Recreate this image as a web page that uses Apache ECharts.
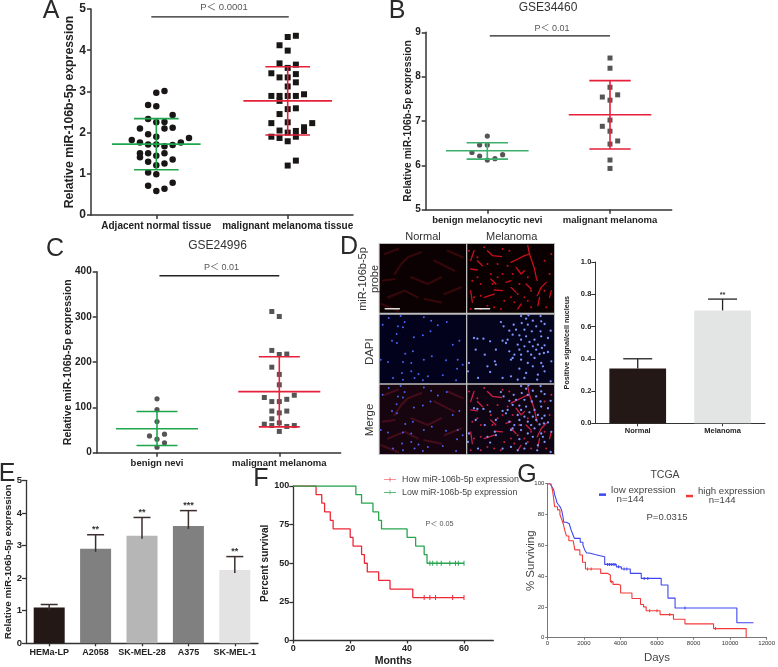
<!DOCTYPE html>
<html><head><meta charset="utf-8">
<style>html,body{margin:0;padding:0;background:#fff}#c{width:778px;height:667px}</style>
<script src="https://cdn.jsdelivr.net/npm/echarts@6/dist/echarts.min.js"></script>
</head><body><div id="c"></div>
<script>
// ---------- panel A : [swarm column, value]
const adjacentNormal = [[1,3.01],[0,2.97],[-1,2.67],[0,2.64],[2,2.43],[-1,2.33],[0,2.25],[1,2.26],[-2,2.10],[1,2.10],[2,2.12],[-1,1.96],[0,1.90],[-3,1.82],[4,1.87],[-2,1.76],[3,1.76],[-1,1.71],[0,1.71],[1,1.67],[2,1.70],[-2,1.50],[-1,1.50],[1,1.50],[0,1.44],[-2,1.40],[2,1.35],[-1,1.29],[1,1.25],[0,1.21],[-1,1.03],[0,0.99],[-1,0.71],[2,0.78],[1,0.64],[0,0.58]];
const malignantTissue = [[1,4.35],[0,4.32],[-1,4.12],[0,3.99],[-1,3.68],[1,3.65],[0,3.57],[-2,3.44],[1,3.42],[-1,3.34],[0,3.34],[1,3.22],[0,3.12],[2,2.93],[-2,2.89],[-1,2.89],[0,2.89],[1,2.89],[-1,2.77],[0,2.57],[1,2.59],[-1,2.45],[0,2.25],[-2,2.23],[3,2.23],[2,2.13],[-1,2.05],[0,2.00],[1,2.04],[2,2.04],[-2,1.90],[-1,1.87],[1,1.90],[0,1.79],[1,1.32],[0,1.20]];
const summaryA = [[1,1.72,1.10,2.34],[2,2.77,1.94,3.60]];
const labelsA = ['Adjacent normal tissue','malignant melanoma tissue'];
// ---------- panel B
const benignNevi34460 = [[0,6.66],[-1,6.46],[0,6.46],[-2,6.29],[-1,6.21],[2,6.24],[1,6.15],[0,6.12]];
const malignant34460 = [[0,8.42],[0,8.19],[0,7.76],[1,7.59],[-1,7.54],[0,7.47],[0,7.02],[-1,6.88],[0,6.77],[1,6.55],[0,6.48],[0,6.12],[0,5.93]];
const summaryB = [[1,6.33,6.14,6.51],[2,7.14,6.37,7.91]];
const labelsB = ['benign melanocytic nevi','malignant melanoma'];
// ---------- panel C
const benignNevi24996 = [[0,119],[0,95],[0,69],[-1,37],[1,41],[0,30],[1,22],[0,12]];
const malignant24996 = [[-1,312],[0,301],[-1,226],[0,217],[1,218],[-1,189],[0,173],[0,150],[-2,122],[2,127],[-1,113],[0,113],[1,118],[-1,92],[0,88],[1,92],[-1,75],[0,66],[-2,63],[-1,60],[1,58],[2,60],[0,47]];
const summaryC = [[1,53,16,91],[2,135,57,212]];
const labelsC = ['benign nevi','malignant melanoma'];
// ---------- panel D bars
const barLabelsD = ['Normal','Melanoma'];
const barValuesD = [0.34,0.70];
const barErrTopD = [0.40,0.77];
const barStarsD = ['','**'];
const barColorsD = ['#231815','#e3e5e5'];
// ---------- panel D micrograph sketches (tile coordinates)
const blueNormal = [[68,14],[32,20],[80,32],[138,18],[160,28],[75,48],[180,42],[207,32],[56,68],[108,78],[135,72],[158,60],[42,88],[57,95],[245,88],[225,100],[105,120],[82,127],[162,135],[8,145],[30,152],[75,152],[100,155],[138,145],[205,147],[240,145],[255,160],[238,172],[100,180],[72,185],[122,188],[45,200],[150,195],[195,192],[75,205],[135,207],[235,207],[110,200],[14,40],[60,45]];
const blueMelanoma = [[430,14],[452,12],[488,14],[445,22],[465,28],[490,30],[370,32],[408,40],[432,35],[450,40],[475,45],[500,38],[378,45],[395,58],[415,55],[440,55],[462,60],[488,60],[518,58],[405,70],[425,72],[445,75],[470,85],[490,75],[510,80],[375,88],[390,85],[430,85],[455,92],[480,100],[500,102],[385,95],[420,100],[440,105],[465,105],[492,110],[395,120],[425,115],[450,120],[475,115],[510,122],[410,130],[430,130],[460,130],[485,128],[498,125],[430,145],[470,140],[400,145],[405,140],[450,155],[490,155],[520,150],[465,165],[425,172],[495,165],[480,190],[445,185],[500,180],[290,80],[300,82],[318,82],[295,115],[322,130],[275,155],[338,90],[352,150],[355,160],[330,165],[338,182],[272,180],[302,200],[375,200],[420,205],[478,205],[518,210],[355,115],[400,195],[440,200]];
const redStreaksMelanoma = [[[400,65],[420,55],[440,45],[455,40],[462,60],[470,85],[475,110],[478,120]],[[455,40],[450,15]],[[478,165],[490,140],[505,125]],[[330,30],[345,45],[372,48]],[[280,85],[300,88]],[[290,30],[280,60]],[[385,125],[400,120]],[[415,80],[430,100],[440,90]],[[350,148],[375,150]],[[320,170],[350,160]],[[280,150],[285,185]],[[480,195],[485,170]],[[520,150],[515,170]],[[420,205],[430,190]],[[300,60],[315,75]],[[340,115],[355,130]],[[400,140],[415,155]],[[445,130],[460,145]]];
const redSpotsMelanoma = [[300,110],[340,100],[360,110],[420,160],[440,170],[460,150],[330,70],[390,75],[400,170],[350,200],[310,205],[505,200],[375,25],[300,50],[425,130],[450,110],[310,130],[285,120],[345,130],[380,180],[460,200],[500,60],[275,30],[320,20],[360,70],[375,100],[290,170],[310,165],[370,205],[395,30],[405,100],[450,180],[515,100],[520,40],[330,195],[280,205],[410,185],[500,150]];
const redStreaksNormal = [[[50,100],[70,70],[90,50],[130,35]],[[15,120],[50,115]],[[100,110],[150,130],[190,110]],[[30,170],[80,150],[120,170]],[[170,60],[230,90]],[[200,160],[250,140]],[[10,190],[60,210]],[[20,40],[60,25]],[[140,175],[190,185]],[[210,30],[255,50]]];
// ---------- panel E
const barLabelsE = ['HEMa-LP','A2058','SK-MEL-28','A375','SK-MEL-1'];
const barValuesE = [1.10,2.90,3.30,3.60,2.25];
const barErrTopE = [1.19,3.33,3.86,4.07,2.66];
const barStarsE = ['','**','**','***','**'];
const barColorsE = ['#231815','#808080','#b6b6b6','#808080','#e3e3e3'];
// ---------- panel F
const highSurvival = [[0,100],[8,94.4],[10,88.9],[11,83.3],[13,77.8],[14,72.2],[20,66.7],[21,61.1],[24,55.6],[25,50],[26,44.4],[30,38.9],[34,33.3],[42,27.8],[60,27.8]];
const lowSurvival = [[0,100],[22,94.4],[24,88.9],[28,83.3],[30,77.8],[31,72.2],[40,66.7],[43,61.1],[46,55.6],[47,50],[60,50]];
const highCensor = [[46,27.8],[48,27.8],[50,27.8],[56,27.8],[60,27.8]];
const lowCensor = [[48,50],[49,50],[50.5,50],[52,50],[55,50],[57,50],[58,50],[60,50]];
// ---------- panel G
const tcgaLow = [[0,100],[150,99.5],[250,98],[350,96],[400,93],[480,90],[520,88],[600,86.5],[700,85],[780,83],[850,79],[900,75],[1050,74],[1200,73],[1300,70],[1400,67],[1480,64.5],[1800,62],[1950,60],[2050,57],[2150,55],[2300,54],[2600,53],[2700,52.6],[3140,47.6],[3776,46],[4050,44.6],[4540,41.8],[5140,38.5],[6230,34.2],[6600,25.7],[6990,19.3],[10370,9.7],[11280,9.7]];
const tcgaHigh = [[0,100],[200,99],[280,96],[330,92],[400,85],[560,83],[690,80],[780,77],[870,74],[950,70],[1050,66],[1180,63],[1416,62.3],[1507,57],[1780,53.7],[1925,49],[2088,44.6],[2920,41.8],[3286,40.7],[3450,36.4],[3595,34.6],[3900,34],[4010,29],[4630,25.5],[5100,21.6],[5265,20],[5410,17.5],[6170,15],[6900,12],[7530,9],[9095,5.9],[10880,0]];
const tcgaLowCensor = [[3300,47.6],[3400,47.6],[3500,47.6],[3600,47.6],[3700,47.6],[3900,46],[4200,44.6],[4350,44.6],[5300,38.5],[5500,38.5],[7530,19.3]];
const tcgaHighCensor = [[2200,44.6],[2400,44.6],[3500,36.4],[5600,17.5],[6000,17.5],[6700,15],[9200,5.9]];

const FONT = "'Liberation Sans','Noto Sans CJK SC',sans-serif";
const grids=[],xAxes=[],yAxes=[],series=[],gfx=[];
const INK='#333';

function txt(text,x,y,size,o){o=o||{};
  gfx.push({type:'text',x:x,y:y,rotation:o.rot||0,z:10,style:{text:text,fill:o.color||'#333',
    font:(o.weight||'normal')+' '+size+'px '+FONT,textAlign:'center',textVerticalAlign:'middle',lineHeight:o.lh}});
}
function addGrid(l,t,r,b){grids.push({left:l,top:t,width:r-l,height:b-t,containLabel:false});return grids.length-1;}
function baseAxis(lineW,color){return {
  nameMoveOverlap:false,
  axisLine:{show:true,onZero:false,lineStyle:{color:color||INK,width:lineW||1.5}},
  axisTick:{show:true,length:4,lineStyle:{color:color||INK,width:lineW||1.5}},
  splitLine:{show:false},minorTick:{show:false}};}

function meanSd(gi,rows,color,meanHalf,capHalf,lw){
  series.push({type:'custom',xAxisIndex:gi,yAxisIndex:gi,data:rows,z:5,silent:true,
    encode:{x:0,y:[1,2,3]},clip:false,
    renderItem:function(p,api){
      const x=api.value(0);
      const m=api.coord([x,api.value(1)]),lo=api.coord([x,api.value(2)]),hi=api.coord([x,api.value(3)]);
      const st={stroke:color,lineWidth:lw||1.6,fill:null};
      const line=(a,b,c,d)=>({type:'line',shape:{x1:a,y1:b,x2:c,y2:d},style:st});
      return {type:'group',children:[
        line(m[0]-meanHalf,m[1],m[0]+meanHalf,m[1]),
        line(m[0]-capHalf,lo[1],m[0]+capHalf,lo[1]),
        line(m[0]-capHalf,hi[1],m[0]+capHalf,hi[1]),
        line(m[0],lo[1],m[0],hi[1])]};
    }});
}
function swarmPanel(c){
  const gi=addGrid(c.l,c.t,c.r,c.b);
  const sp=c.c2-c.c1;
  xAxes.push(Object.assign(baseAxis(1.5),{gridIndex:gi,type:'value',
    min:1+(c.l-c.c1)/sp,max:2+(c.r-c.c2)/sp,
    axisTick:{show:true,length:4,customValues:[1,2],lineStyle:{color:INK,width:1.5}},
    axisLabel:{customValues:[1,2],formatter:v=>c.labels[Math.round(v)-1],hideOverlap:false,color:'#222',fontWeight:'bold',fontSize:c.xSize,fontFamily:FONT,margin:c.xMargin||6}}));
  yAxes.push(Object.assign(baseAxis(1.5),{gridIndex:gi,type:'value',min:c.ymin,max:c.ymax,interval:c.yint,
    name:'Relative miR-106b-5p expression',nameLocation:'middle',nameGap:c.nameGap,
    nameTextStyle:{color:'#222',fontWeight:'bold',fontSize:c.nameSize,fontFamily:FONT},
    axisLabel:{color:'#222',fontWeight:'bold',fontSize:c.ySize,fontFamily:FONT,margin:5}}));
  const pts=(arr,ctr)=>arr.map(d=>[ctr+d[0]*c.step,d[1]]);
  series.push({type:'scatter',xAxisIndex:gi,yAxisIndex:gi,symbol:'circle',symbolSize:c.cs,data:pts(c.a,1),itemStyle:{color:c.ptColor,opacity:1},z:3,silent:true});
  series.push({type:'scatter',xAxisIndex:gi,yAxisIndex:gi,symbol:'rect',symbolSize:c.ss,data:pts(c.bb,2),itemStyle:{color:c.ptColor,opacity:1},z:3,silent:true});
  meanSd(gi,[c.summary[0]],c.green,c.mh,c.ch);
  meanSd(gi,[c.summary[1]],'#e5213a',c.mh,c.ch);
  series.push({type:'line',xAxisIndex:gi,yAxisIndex:gi,data:c.pbar,showSymbol:false,silent:true,lineStyle:{color:'#222',width:1.3},z:4});
}
swarmPanel({l:91,r:353,t:9,b:215,c1:156.3,c2:287.7,labels:labelsA,xSize:10,xMargin:6,ymin:0,ymax:5,yint:1,nameGap:15,nameSize:12.3,ySize:12,step:0.0622,
  a:adjacentNormal,bb:malignantTissue,summary:summaryA,cs:6.5,ss:6,ptColor:'#1a1616',green:'#1fa54c',mh:44.3,ch:22.3,pbar:[[0.962,4.81],[2.008,4.81]]});
swarmPanel({l:425.7,r:671.7,t:32.3,b:209.7,c1:487.3,c2:610,labels:labelsB,xSize:9.5,ymin:5,ymax:9,yint:1,nameGap:12.7,nameSize:10.3,ySize:10,step:0.0625,
  a:benignNevi34460,bb:malignant34460,summary:summaryB,cs:5.2,ss:5,ptColor:'#555',green:'#3cb06c',mh:41.3,ch:20.7,pbar:[[1.02,8.92],[2.0,8.92]]});
swarmPanel({l:96.7,r:340.7,t:271.7,b:452.7,c1:157,c2:279.3,labels:labelsC,xSize:9.5,ymin:0,ymax:400,yint:100,nameGap:23.7,nameSize:10.6,ySize:10,step:0.0613,
  a:benignNevi24996,bb:malignant24996,summary:summaryC,cs:5.2,ss:5,ptColor:'#555',green:'#1fa54c',mh:41,ch:20.5,pbar:[[1.02,391],[2.0,391]]});

function barPanel(c){
  const gi=addGrid(c.l,c.t,c.r,c.b);
  xAxes.push(Object.assign(baseAxis(c.lw),{gridIndex:gi,type:'category',data:c.labels,
    axisTick:{show:true,length:3,alignWithLabel:true,lineStyle:{color:INK,width:c.lw}},
    axisLabel:{color:'#222',fontWeight:'bold',fontSize:c.xSize,fontFamily:FONT,margin:c.xMargin,interval:0}}));
  yAxes.push(Object.assign(baseAxis(c.lw),{gridIndex:gi,type:'value',min:0,max:c.ymax,interval:c.yint,
    name:c.yName,nameLocation:'middle',nameGap:c.nameGap,
    nameTextStyle:{color:'#222',fontWeight:'bold',fontSize:c.nameSize,fontFamily:FONT},
    axisLabel:{color:'#222',fontWeight:'bold',fontSize:c.ySize,fontFamily:FONT,margin:4,formatter:c.yFmt}}));
  series.push({type:'bar',xAxisIndex:gi,yAxisIndex:gi,barWidth:c.bw,silent:true,z:2,
    data:c.values.map((v,i)=>({value:v,itemStyle:{color:c.colors[i]}}))});
  series.push({type:'custom',xAxisIndex:gi,yAxisIndex:gi,z:3,silent:true,clip:false,
    data:c.values.map((v,i)=>[i,v,c.tops[i],c.stars[i]]),
    renderItem:function(p,api){
      const i=api.value(0);const a=api.coord([i,api.value(1)]),b=api.coord([i,api.value(2)]);
      const st={stroke:c.errColor,lineWidth:c.errW,fill:null};
      const kids=[{type:'line',shape:{x1:a[0],y1:a[1]+c.drop,x2:a[0],y2:b[1]},style:st},
                  {type:'line',shape:{x1:a[0]-c.cap,y1:b[1],x2:a[0]+c.cap,y2:b[1]},style:st}];
      const s=c.stars[i];
      if(s) kids.push({type:'text',x:a[0],y:b[1]-c.starGap,style:{text:s,fill:'#333',font:'bold '+c.starSize+'px '+FONT,textAlign:'center',textVerticalAlign:'middle'}});
      return {type:'group',children:kids};
    }});
}
barPanel({l:595.3,r:765,t:262,b:423.3,labels:barLabelsD,values:barValuesD,tops:barErrTopD,stars:barStarsD,colors:barColorsD,ymax:1,yint:0.2,
  yName:'Positive signal/cell nucleus',nameGap:24.4,nameSize:7.2,xSize:7.5,ySize:7.5,xMargin:4,lw:1,bw:56.7,errColor:'#222',errW:1.3,cap:14.5,drop:0,starGap:4,starSize:7.5,yFmt:v=>v.toFixed(1)});
barPanel({l:26,r:258,t:480.3,b:643.3,labels:barLabelsE,values:barValuesE,tops:barErrTopE,stars:barStarsE,colors:barColorsE,ymax:5,yint:1,
  yName:'Relative miR-106b-5p expression',nameGap:13,nameSize:9.9,xSize:9,ySize:9.5,xMargin:5,lw:1.3,bw:31,errColor:'#3a2f2c',errW:1.5,cap:8.5,drop:3,starGap:5,starSize:9});

// ---------- micrographs
const tiles=[
 [379.7,244,466,312.7,5,265,'#0c0102',[redStreaksNormal],[],[],'#3c080c'],
 [467.3,244,554,312.7,270,528,'#0a0002',[redStreaksMelanoma],[redSpotsMelanoma],[],'#c80f1a'],
 [379.7,314.7,466,383.3,5,265,'#02021c',[],[],[blueNormal],'#000'],
 [467.3,314.7,554,383.3,270,528,'#04041c',[],[],[blueMelanoma],'#000'],
 [379.7,384.7,466,454,5,265,'#16040f',[redStreaksNormal],[],[blueNormal],'#4a0e1c'],
 [467.3,384.7,554,454,270,528,'#0e0412',[redStreaksMelanoma],[redSpotsMelanoma],[blueMelanoma],'#c81f45']];
gfx.push({type:'rect',shape:{x:378.7,y:243,width:176.3,height:212},style:{fill:'#bdbdbd'},z:-1,silent:true});
tiles.forEach((t,idx)=>{
  const gi=addGrid(t[0],t[1],t[2],t[3]);
  grids[gi].show=true;grids[gi].backgroundColor=t[6];grids[gi].borderWidth=0;
  xAxes.push({gridIndex:gi,type:'value',min:t[4],max:t[5],show:false});
  yAxes.push({gridIndex:gi,type:'value',min:10,max:216,inverse:true,show:false});
  t[7].forEach(set=>series.push({type:'lines',coordinateSystem:'cartesian2d',xAxisIndex:gi,yAxisIndex:gi,polyline:true,silent:true,z:2,
    lineStyle:{color:t[10],width:idx%2?1.3:2.2,opacity:idx%2?1:.85,cap:'round',join:'round'},data:set.map(c=>({coords:c}))}));
  t[8].forEach(set=>series.push({type:'scatter',xAxisIndex:gi,yAxisIndex:gi,symbolSize:2,silent:true,z:3,itemStyle:{color:t[10],opacity:1},data:set}));
  t[9].forEach(set=>series.push({type:'scatter',xAxisIndex:gi,yAxisIndex:gi,symbolSize:idx%2?2.3:2,silent:true,z:4,itemStyle:{color:idx%2?'#7f95ff':'#4a62f5',opacity:1},data:set}));
  if(idx<2){const b=idx?[291,338]:[20,66];
    series.push({type:'line',xAxisIndex:gi,yAxisIndex:gi,showSymbol:false,silent:true,z:5,lineStyle:{color:'#ddd',width:1.5},data:[[b[0],204],[b[1],204]]});}
});

// ---------- F
(function(){
  const gi=addGrid(293.3,486,493.3,640.7);
  xAxes.push(Object.assign(baseAxis(1.3),{gridIndex:gi,type:'value',min:0,max:70.3,name:'Months',nameLocation:'middle',nameGap:15,
    nameTextStyle:{color:'#222',fontWeight:'bold',fontSize:10.5,fontFamily:FONT},
    axisTick:{show:true,length:3,customValues:[0,20,40,60],lineStyle:{color:INK,width:1.3}},
    axisLabel:{customValues:[0,20,40,60],color:'#222',fontWeight:'bold',fontSize:9,fontFamily:FONT,margin:4}}));
  yAxes.push(Object.assign(baseAxis(1.3),{gridIndex:gi,type:'value',min:0,max:100,interval:25,name:'Percent survival',nameLocation:'middle',nameGap:22.6,
    nameTextStyle:{color:'#222',fontWeight:'bold',fontSize:10,fontFamily:FONT},
    axisLabel:{color:'#222',fontWeight:'bold',fontSize:9,fontFamily:FONT,margin:4}}));
  const ln=(name,data,color)=>series.push({name,type:'line',step:'end',xAxisIndex:gi,yAxisIndex:gi,data,showSymbol:false,silent:true,lineStyle:{color,width:1.3},itemStyle:{color},z:3});
  ln('How miR-106b-5p expression',highSurvival,'#ee2737');
  ln('Low miR-106b-5p expression',lowSurvival,'#27a550');
  const cz=(data,color)=>series.push({type:'scatter',xAxisIndex:gi,yAxisIndex:gi,symbol:'rect',symbolSize:[1,5],data,silent:true,itemStyle:{color,opacity:1},z:4});
  cz(highCensor,'#ee2737');cz(lowCensor,'#27a550');
})();
// ---------- G
(function(){
  const gi=addGrid(547.3,483.7,767.7,637.7);
  const C='#777';
  xAxes.push(Object.assign(baseAxis(1,C),{gridIndex:gi,type:'value',min:0,max:12000,interval:2000,name:'Days',nameLocation:'middle',nameGap:14,
    nameTextStyle:{color:'#444',fontSize:11.5,fontFamily:FONT},
    axisTick:{show:true,length:2,lineStyle:{color:C}},
    axisLabel:{color:'#333',fontSize:6,fontFamily:FONT,margin:3,showMaxLabel:true,showMinLabel:true,hideOverlap:false,formatter:v=>String(v)}}));
  yAxes.push(Object.assign(baseAxis(1,C),{gridIndex:gi,type:'value',min:0,max:100,interval:20,name:'% Surviving',nameLocation:'middle',nameGap:11,
    nameTextStyle:{color:'#444',fontSize:11.5,fontFamily:FONT},
    axisTick:{show:true,length:2,lineStyle:{color:C}},
    axisLabel:{color:'#333',fontSize:6,fontFamily:FONT,margin:3}}));
  const ln=(name,data,color)=>series.push({name,type:'line',step:'end',xAxisIndex:gi,yAxisIndex:gi,data,showSymbol:false,silent:true,lineStyle:{color,width:1.1},itemStyle:{color},z:3});
  ln('low expression',tcgaLow,'#3d46f0');
  ln('high expression',tcgaHigh,'#f23a3a');
  const cz=(data,color)=>series.push({type:'scatter',xAxisIndex:gi,yAxisIndex:gi,symbol:'rect',symbolSize:[1,3],data,silent:true,itemStyle:{color,opacity:1},z:4});
  cz(tcgaLowCensor,'#3d46f0');cz(tcgaHighCensor,'#f23a3a');
})();

// ---------- text
[['A',51,11],['B',397,11],['C',55,249],['D',349,247],['E',7,474],['F',261,479],['G',527,475]].forEach(d=>txt(d[0],d[1],d[2],25,{color:'#2a2a2a'}));
txt('P\uFF1C 0.0001',224,7.5,9.5,{color:'#555'});
txt('GSE34460',548,8,12,{color:'#333'});
txt('P\uFF1C 0.01',552,29,9,{color:'#555'});
txt('GSE24996',217.5,246,12,{color:'#333'});
txt('P\uFF1C 0.01',221.5,268,9,{color:'#555'});
txt('Normal',423,236.7,11,{color:'#333'});
txt('Melanoma',511.7,236.7,11,{color:'#333'});
txt('miR-106b-5p\nprobe',369,279,11,{rot:Math.PI/2,lh:12});
txt('DAPI',369.7,351.7,11.5,{rot:Math.PI/2});
txt('Merge',369.7,420,11.5,{rot:Math.PI/2});
txt('P\uFF1C 0.05',439.4,524,7.2,{color:'#555'});
txt('TCGA',665,475,10.5,{color:'#444'});
txt('P=0.0315',667,517.5,9.5,{color:'#444'});

const fLegendIcon='path://M0 4H24V5.2H0Z M11.4 0H12.6V9H11.4Z';
const opt={animation:false,backgroundColor:'#fff',textStyle:{fontFamily:FONT},
  grid:grids,xAxis:xAxes,yAxis:yAxes,series:series,graphic:{elements:gfx},
  legend:[
   {data:['How miR-106b-5p expression','Low miR-106b-5p expression'],left:384,top:475,orient:'vertical',itemGap:4,itemWidth:12,itemHeight:5,padding:0,icon:fLegendIcon,selectedMode:false,
    textStyle:{color:'#444',fontSize:8.9,fontFamily:FONT,padding:[0,0,0,1]}},
   {data:['low expression'],left:599,top:485,itemWidth:7,itemHeight:2.5,itemGap:2,padding:0,icon:'rect',selectedMode:false,
    formatter:()=>'low expression\n  n=144',textStyle:{color:'#444',fontSize:9.8,lineHeight:9.5,fontFamily:FONT}},
   {data:['high expression'],left:686,top:487,itemWidth:7,itemHeight:2.5,itemGap:2,padding:0,icon:'rect',selectedMode:false,
    formatter:()=>'high expression\n    n=144',textStyle:{color:'#444',fontSize:9.6,lineHeight:8.5,fontFamily:FONT}}
  ]};
echarts.init(document.getElementById('c'),null,{renderer:'canvas'}).setOption(opt);
</script></body></html>
